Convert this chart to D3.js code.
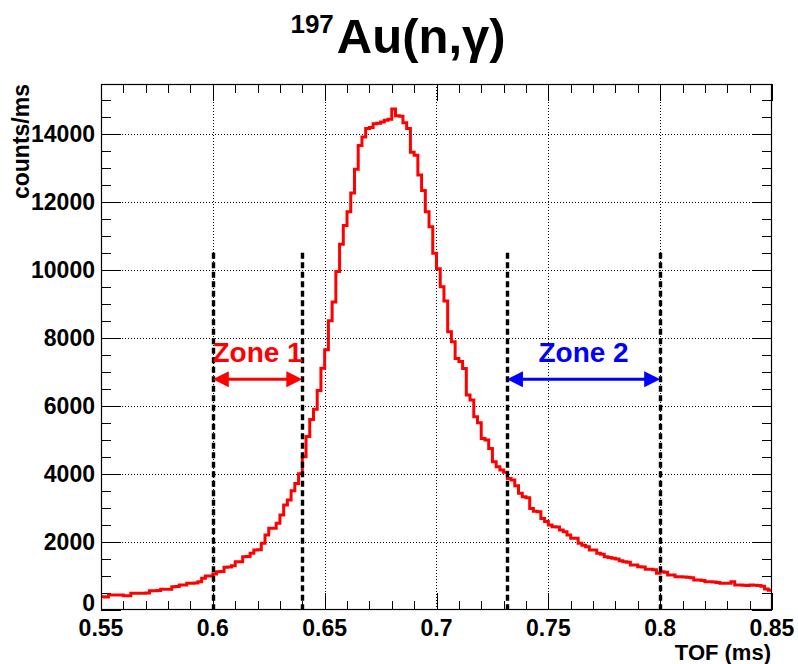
<!DOCTYPE html>
<html>
<head>
<meta charset="utf-8">
<script src="https://cdn.jsdelivr.net/npm/d3@7"></script>
<style>
html,body{margin:0;padding:0;background:#fff;}
svg text{font-family:"Liberation Sans",Arial,Helvetica,sans-serif;font-weight:bold;}
</style>
</head>
<body>
<svg id="chart" width="798" height="664"></svg>
<script>
// ---- data ----
const tofStart = 0.55;
const tofEnd = 0.85;
const counts = [
  390, 380, 440, 440, 440, 440, 420, 420, 490, 490,
  490, 495, 500, 567, 567, 570, 607, 607, 610, 685,
  690, 734, 734, 783, 783, 790, 832, 930, 998, 1000,
  1057, 1126, 1130, 1253, 1260, 1300, 1419, 1420, 1566, 1570,
  1664, 1762, 1770, 1958, 2203, 2399, 2400, 2546, 2790, 3084,
  3231, 3504, 3720,
  4000, 4500, 5100, 5600, 5900, 6450, 7100, 7650, 8500, 9050,
  9950, 10750, 11300, 11700, 12250, 12950, 13650, 13900, 14150, 14180,
  14290, 14300, 14340, 14390, 14420, 14720, 14520, 14510, 14320, 14150,
  13450, 13360, 12780, 12330, 11700, 11260, 10480, 10030, 9500, 9080,
  8174, 7880, 7392, 7300, 7098, 6314, 6167, 5677, 5500, 5042,
  4993, 4749, 4357, 4210, 4112, 4050, 3867, 3818, 3650, 3427,
  3329, 3300, 2986, 2900, 2888, 2692, 2600, 2496, 2447, 2440,
  2349, 2300, 2203, 2105, 2105, 1958, 1900, 1860, 1762, 1762,
  1664, 1640, 1566, 1540, 1517, 1500, 1450, 1419, 1400, 1321,
  1321, 1272, 1260, 1194, 1194, 1180, 1077, 1126, 1110, 1028,
  1028, 979, 979, 970, 960, 950, 881, 881, 870, 832,
  832, 820, 810, 783, 783, 783, 832, 734, 734, 730,
  720, 734, 730, 720, 700, 620, 580
];
const xTicks = [0.55, 0.6, 0.65, 0.7, 0.75, 0.8, 0.85];
const xTickLabels = ["0.55", "0.6", "0.65", "0.7", "0.75", "0.8", "0.85"];
const yTicks = [0, 2000, 4000, 6000, 8000, 10000, 12000, 14000];
const yTickLabels = ["0", "2000", "4000", "6000", "8000", "10000", "12000", "14000"];
const zoneLines = [0.6, 0.64, 0.7315, 0.8];
const zoneLineTop = 10500;
const zoneNames = ["Zone 1", "Zone 2"];
const zoneFrom = [0.6, 0.7315];
const zoneTo = [0.64, 0.8];
const zoneArrowY = 6780;
const zoneColors = ["#ff0000", "#0000ff"];
const titleSup = "197";
const titleMain = "Au(n,\u03b3)";
const xTitle = "TOF (ms)";
const yTitle = "counts/ms";

// ---- layout ----
const svg = d3.select("#chart");
const L = 101, R = 772, T = 84, B = 610;
const nb = counts.length;
const bw = (tofEnd - tofStart) / nb;
const yMax = 1.05 * d3.max(counts);
const x = d3.scaleLinear().domain([tofStart, tofEnd]).range([L, R]);
const y = d3.scaleLinear().domain([0, yMax]).range([B, T]);

const xMinor = d3.range(0, 31).map(i => tofStart + i * 0.01);
const yMinor = d3.range(0, Math.floor(yMax / 500) + 1).map(i => i * 500);

// grid
const grid = svg.append("g").attr("stroke", "#000").attr("stroke-width", 1).attr("stroke-dasharray", "1,2");
grid.selectAll(".gx").data(xTicks.slice(1, -1)).enter().append("line")
  .attr("x1", d => Math.round(x(d)) + 0.5).attr("x2", d => Math.round(x(d)) + 0.5)
  .attr("y1", T).attr("y2", B);
grid.selectAll(".gy").data(yTicks.slice(1)).enter().append("line")
  .attr("y1", d => Math.round(y(d)) + 0.5).attr("y2", d => Math.round(y(d)) + 0.5)
  .attr("x1", L).attr("x2", R);

// ticks
const tk = svg.append("g").attr("stroke", "#000").attr("stroke-width", 1);
const isMajorX = v => xTicks.some(t => Math.abs(t - v) < 1e-6);
xMinor.forEach(v => {
  const len = isMajorX(v) ? 17 : 9;
  const xp = Math.round(x(v)) + 0.5;
  tk.append("line").attr("x1", xp).attr("x2", xp).attr("y1", B).attr("y2", B - len);
  tk.append("line").attr("x1", xp).attr("x2", xp).attr("y1", T).attr("y2", T + len);
});
yMinor.forEach(v => {
  const len = (v % 2000 === 0) ? 20 : 10;
  const yp = Math.round(y(v)) + 0.5;
  tk.append("line").attr("x1", L).attr("x2", L + len).attr("y1", yp).attr("y2", yp);
  tk.append("line").attr("x1", R).attr("x2", R - len).attr("y1", yp).attr("y2", yp);
});

// histogram
svg.append("clipPath").attr("id", "clip").append("rect")
  .attr("x", L).attr("y", T).attr("width", R - L).attr("height", B - T);
const pts = [];
counts.forEach((c, i) => {
  pts.push([tofStart + i * bw, c]);
  pts.push([tofStart + (i + 1) * bw, c]);
});
const line = d3.line().x(d => x(d[0])).y(d => y(d[1]));
svg.append("path").attr("d", line(pts)).attr("fill", "none")
  .attr("stroke", "#ff0000").attr("stroke-width", 3).attr("stroke-linejoin", "miter")
  .attr("clip-path", "url(#clip)");

// zone dashed lines
svg.selectAll(".zl").data(zoneLines).enter().append("line")
  .attr("x1", d => Math.round(x(d)) + 0.5).attr("x2", d => Math.round(x(d)) + 0.5)
  .attr("y1", y(zoneLineTop)).attr("y2", y(0))
  .attr("stroke", "#000").attr("stroke-width", 3.4).attr("stroke-dasharray", "6,3.5");

// frame
svg.append("rect").attr("x", L + 0.5).attr("y", T + 0.5).attr("width", R - L - 1).attr("height", B - T - 1)
  .attr("fill", "none").attr("stroke", "#000").attr("stroke-width", 1.2);

// zone arrows + labels
zoneNames.forEach((name, i) => {
  const x1 = x(zoneFrom[i]), x2 = x(zoneTo[i]), yy = y(zoneArrowY);
  const col = zoneColors[i];
  const hl = 16, hw = 8;
  svg.append("line").attr("x1", x1 + hl - 2).attr("x2", x2 - hl + 2).attr("y1", yy).attr("y2", yy)
    .attr("stroke", col).attr("stroke-width", 3.2);
  svg.append("path").attr("d", `M${x1},${yy}L${x1 + hl},${yy - hw}L${x1 + hl},${yy + hw}Z`).attr("fill", col);
  svg.append("path").attr("d", `M${x2},${yy}L${x2 - hl},${yy - hw}L${x2 - hl},${yy + hw}Z`).attr("fill", col);
  svg.append("text").attr("x", (x1 + x2) / 2).attr("y", 362).attr("text-anchor", "middle")
    .attr("font-size", 28).attr("fill", col).text(name);
});

// tick labels
svg.selectAll(".xl").data(xTicks).enter().append("text")
  .attr("x", d => x(d)).attr("y", 636).attr("text-anchor", "middle")
  .attr("font-size", 23).text((d, i) => xTickLabels[i]);
svg.selectAll(".yl").data(yTicks).enter().append("text")
  .attr("x", 95).attr("y", d => y(d) - (d === 0 ? 7 : 0)).attr("dy", "0.36em").attr("text-anchor", "end")
  .attr("font-size", 23).text((d, i) => yTickLabels[i]);

// axis titles
svg.append("text").attr("x", 771).attr("y", 660).attr("text-anchor", "end").attr("font-size", 22).text(xTitle);
svg.append("text").attr("transform", `translate(29,${T}) rotate(-90)`).attr("text-anchor", "end")
  .attr("font-size", 23).text(yTitle);

// title
const tt = svg.append("text").attr("x", 398).attr("y", 53).attr("text-anchor", "middle");
tt.append("tspan").attr("font-size", 26).attr("dy", -20).text(titleSup);
tt.append("tspan").attr("font-size", 49).attr("dx", 3).attr("dy", 20).text(titleMain);
</script>
</body>
</html>
